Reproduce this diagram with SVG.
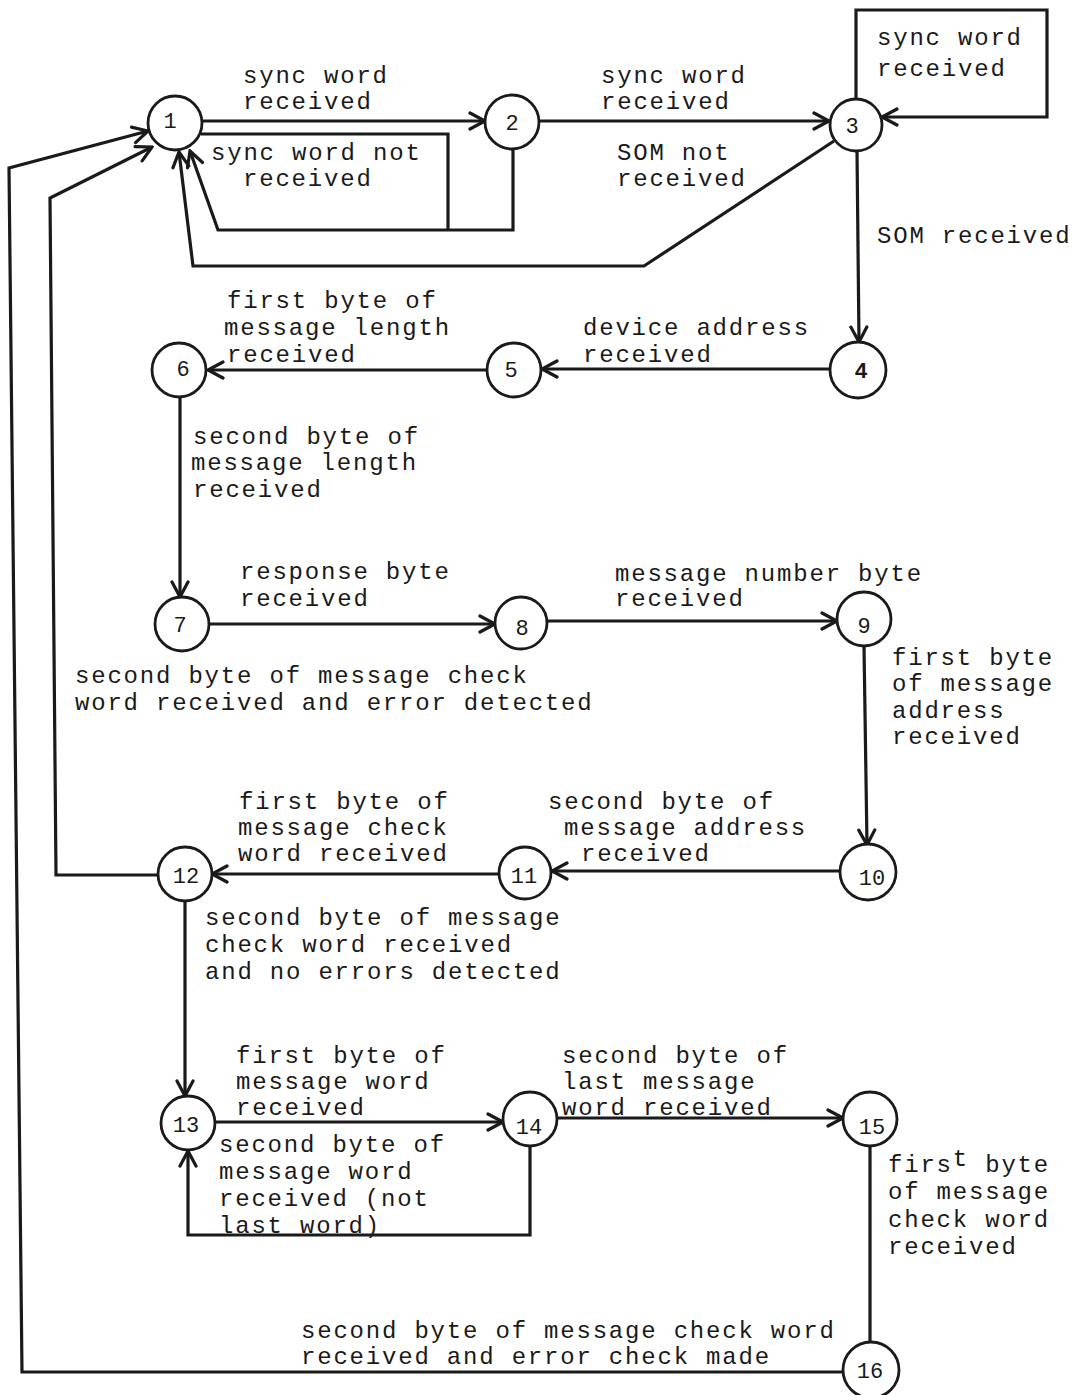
<svg xmlns="http://www.w3.org/2000/svg" width="1073" height="1395" viewBox="0 0 1073 1395">
<style>
.bg{fill:#ffffff}
.node{fill:#ffffff;stroke:#1a1a1a;stroke-width:2.8}
.num{font-family:"Liberation Mono",monospace;font-size:22px;fill:#1a1a1a;text-anchor:middle}
.lbl{font-family:"Liberation Mono",monospace;font-size:24px;letter-spacing:1.8px;fill:#1a1a1a}
.edge{fill:none;stroke:#1a1a1a;stroke-width:3.2;stroke-linejoin:miter}
.arr{marker-end:url(#arrow)}
</style>
<defs>
<marker id="arrow" markerUnits="userSpaceOnUse" viewBox="-17 -10 19 20" refX="0" refY="0" markerWidth="19" markerHeight="20" orient="auto">
<path d="M-15,-8 L0,0 L-15,8" fill="none" stroke="#1a1a1a" stroke-width="3.2" stroke-linecap="round" stroke-linejoin="miter"/>
</marker>
</defs>
<rect class="bg" x="0" y="0" width="1073" height="1395"/>
<g id="connectors">
<path class="edge arr" d="M202,121 H485"/>
<path class="edge" d="M201,134 H448 V230"/>
<path class="edge arr" d="M513,149 V230 H218 L190,151"/>
<path class="edge arr" d="M539,121 H829"/>
<path class="edge arr" d="M856,99 V10 H1047 V117 H882"/>
<path class="edge arr" d="M834,141 L644,266 H193 L179,152"/>
<path class="edge arr" d="M857,151 L859,342"/>
<path class="edge arr" d="M831,369 H542"/>
<path class="edge arr" d="M488,370 H208"/>
<path class="edge arr" d="M180,397 V597"/>
<path class="edge arr" d="M210,624 H495"/>
<path class="edge arr" d="M547,621 H837"/>
<path class="edge arr" d="M864,646 L867,845"/>
<path class="edge arr" d="M840,871 H552"/>
<path class="edge arr" d="M499,874 H212"/>
<path class="edge arr" d="M158,875 H56 L50,198 L152,147"/>
<path class="edge arr" d="M185,902 V1096"/>
<path class="edge arr" d="M215,1122 H503"/>
<path class="edge arr" d="M530,1146 V1235 H188 V1151"/>
<path class="edge arr" d="M557,1118 H843"/>
<path class="edge" d="M870,1146 V1342"/>
<path class="edge arr" d="M843,1372 H22 L9,168 L148,131"/>
</g>
<g id="n1"><circle class="node" cx="175" cy="123" r="27"/><text class="num" x="170" y="128">1</text></g>
<g id="n2"><circle class="node" cx="512" cy="122" r="27"/><text class="num" x="512" y="130">2</text></g>
<g id="n3"><circle class="node" cx="856" cy="125" r="26"/><text class="num" x="852" y="133">3</text></g>
<g id="n4"><circle class="node" cx="858" cy="370" r="28"/><text class="num" x="861" y="378" font-weight="bold">4</text></g>
<g id="n5"><circle class="node" cx="514" cy="370" r="27"/><text class="num" x="511" y="377">5</text></g>
<g id="n6"><circle class="node" cx="179" cy="370" r="27"/><text class="num" x="183" y="376">6</text></g>
<g id="n7"><circle class="node" cx="182" cy="624" r="27"/><text class="num" x="180" y="632">7</text></g>
<g id="n8"><circle class="node" cx="521" cy="623" r="26"/><text class="num" x="522" y="635">8</text></g>
<g id="n9"><circle class="node" cx="864" cy="619" r="27"/><text class="num" x="864" y="633">9</text></g>
<g id="n10"><circle class="node" cx="868" cy="872" r="28"/><text class="num" x="872" y="885">10</text></g>
<g id="n11"><circle class="node" cx="525" cy="873" r="26"/><text class="num" x="524" y="883">11</text></g>
<g id="n12"><circle class="node" cx="185" cy="874" r="27"/><text class="num" x="186" y="883">12</text></g>
<g id="n13"><circle class="node" cx="188" cy="1123" r="27"/><text class="num" x="186" y="1132">13</text></g>
<g id="n14"><circle class="node" cx="530" cy="1119" r="27"/><text class="num" x="529" y="1134">14</text></g>
<g id="n15"><circle class="node" cx="870" cy="1119" r="27"/><text class="num" x="872" y="1134">15</text></g>
<g id="n16"><circle class="node" cx="871" cy="1370" r="28"/><text class="num" x="870" y="1378">16</text></g>
<g id="labels">
<text class="lbl" x="243" y="83">sync word</text>
<text class="lbl" x="243" y="109">received</text>
<text class="lbl" x="211" y="160">sync word not</text>
<text class="lbl" x="243" y="186">received</text>
<text class="lbl" x="601" y="83">sync word</text>
<text class="lbl" x="601" y="109">received</text>
<text class="lbl" x="617" y="160">SOM not</text>
<text class="lbl" x="617" y="186">received</text>
<text class="lbl" x="877" y="45">sync word</text>
<text class="lbl" x="877" y="76">received</text>
<text class="lbl" x="877" y="243">SOM received</text>
<text class="lbl" x="227" y="308">first byte of</text>
<text class="lbl" x="224" y="335">message length</text>
<text class="lbl" x="227" y="362">received</text>
<text class="lbl" x="583" y="335">device address</text>
<text class="lbl" x="583" y="362">received</text>
<text class="lbl" x="193" y="444">second byte of</text>
<text class="lbl" x="191" y="470">message length</text>
<text class="lbl" x="193" y="497">received</text>
<text class="lbl" x="240" y="579">response byte</text>
<text class="lbl" x="240" y="606">received</text>
<text class="lbl" x="615" y="581">message number byte</text>
<text class="lbl" x="615" y="606">received</text>
<text class="lbl" x="75" y="683">second byte of message check</text>
<text class="lbl" x="75" y="710">word received and error detected</text>
<text class="lbl" x="892" y="665">first byte</text>
<text class="lbl" x="892" y="691">of message</text>
<text class="lbl" x="892" y="718">address</text>
<text class="lbl" x="892" y="744">received</text>
<text class="lbl" x="548" y="809">second byte of</text>
<text class="lbl" x="564" y="835">message address</text>
<text class="lbl" x="581" y="861">received</text>
<text class="lbl" x="239" y="809">first byte of</text>
<text class="lbl" x="238" y="835">message check</text>
<text class="lbl" x="238" y="861">word received</text>
<text class="lbl" x="205" y="925">second byte of message</text>
<text class="lbl" x="205" y="952">check word received</text>
<text class="lbl" x="205" y="979">and no errors detected</text>
<text class="lbl" x="236" y="1063">first byte of</text>
<text class="lbl" x="236" y="1089">message word</text>
<text class="lbl" x="236" y="1115">received</text>
<text class="lbl" x="219" y="1152">second byte of</text>
<text class="lbl" x="219" y="1179">message word</text>
<text class="lbl" x="219" y="1206">received (not</text>
<text class="lbl" x="219" y="1233">last word)</text>
<text class="lbl" x="562" y="1063">second byte of</text>
<text class="lbl" x="562" y="1089">last message</text>
<text class="lbl" x="562" y="1115">word received</text>
<text class="lbl" x="888" y="1172">firs<tspan dy="-6">t</tspan><tspan dy="6"> byte</tspan></text>
<text class="lbl" x="888" y="1199">of message</text>
<text class="lbl" x="888" y="1227">check word</text>
<text class="lbl" x="888" y="1254">received</text>
<text class="lbl" x="301" y="1338">second byte of message check word</text>
<text class="lbl" x="301" y="1364">received and error check made</text>
</g>
</svg>
